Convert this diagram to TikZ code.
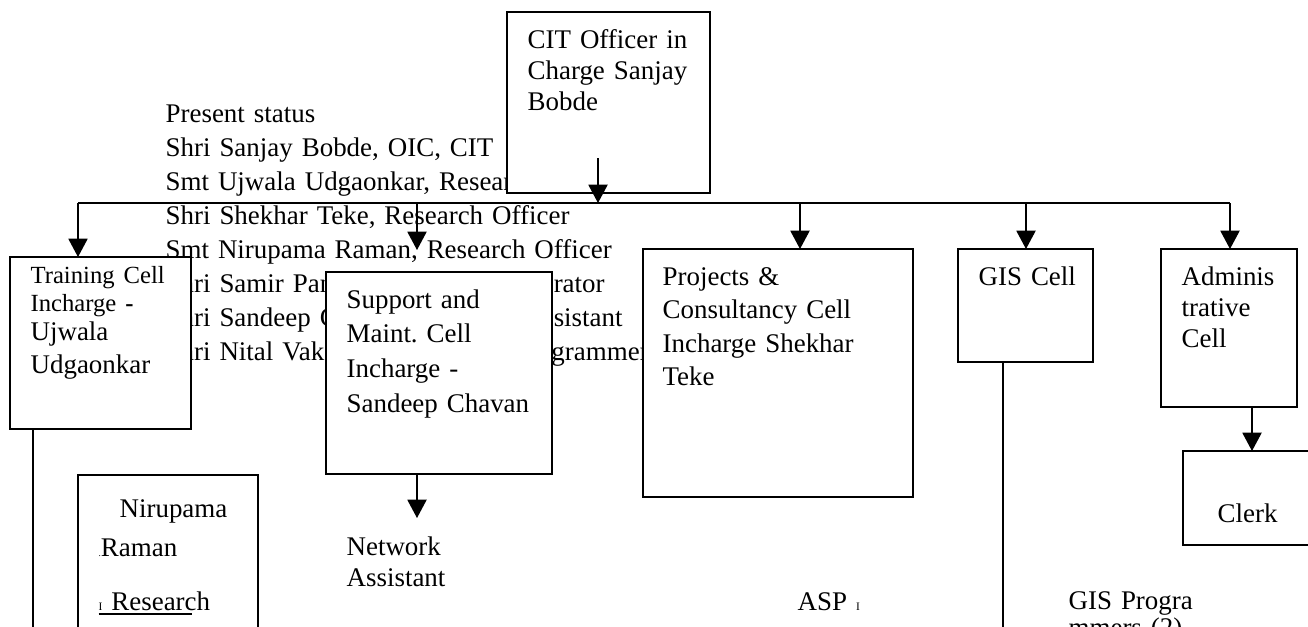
\documentclass[tikz,border=0pt]{standalone}
\usepackage{fontspec}
\setmainfont{Liberation Serif}
\usetikzlibrary{positioning,fit,arrows.meta}
\frenchspacing
\newcommand\postline{\rlap{\rule[-2.4pt]{40.7pt}{0.9pt}}}

\begin{document}
\begin{tikzpicture}[x=0.438pt,y=-0.438pt,
                     line width=0.55pt,
                     cell/.style={draw,fill=white,inner sep=0pt,outer sep=0pt},
                     cell text/.style={anchor=base west,inner sep=0pt,align=left,text width=170pt,
                                       font=\fontsize{11.8}{#1}\selectfont},
                     cell text/.default=14.6pt,
                     arrow/.style={-{Triangle[width=8.4pt,length=8pt]}}
                    ]
   \useasboundingbox (0,0) rectangle (1308,626);
   \clip (0,0) rectangle (1308,626);
   % status list, the cells are drawn over it
   \node[cell text=14.9pt,text width=300pt] (status) at (165,122)
     {Present status\\
      Shri Sanjay Bobde, OIC, CIT\\
      Smt Ujwala Udgaonkar, Research Officer\\
      Shri Shekhar Teke, Research Officer\\
      Smt Nirupama Raman, Research Officer\\
      \makebox[170pt][l]{Shri Samir Pan}rator\\
      \makebox[170pt][l]{Shri Sandeep C}sistant\\
      \makebox[169pt][l]{Shri Nital Vak}grammer};
   % cells
   \node[cell,fit={(507,12) (710,193)}] (cit) {};
   \node[cell,fit={(10,257) (191,429)}] (train) {};
   \node[cell,fit={(326,272) (552,474)}] (sup) {};
   \node[cell,fit={(643,249) (913,497)}] (proj) {};
   \node[cell,fit={(958,249) (1093,362)}] (gis) {};
   \node[cell,fit={(1161,249) (1297,407)}] (admin) {};
   \node[cell,fit={(1183,451) (1330,545)}] (clerk) {};
   \node[cell,fit={(78,475) (258,660)}] (nir) {};
   % texts
   \node[cell text=13.6pt] (cit text) at (527,48) {CIT Officer in\\ Charge Sanjay\\ Bobde};
   \node[cell text] (train text) at (30,283)
     {{\fontsize{10.8}{12.3}\selectfont Training Cell\\ Incharge {\bfseries -}\par}\vspace{-1.8pt}%
      {\fontsize{11.8}{14.5}\selectfont Ujwala\\ Udgaonkar\par}};
   \node[cell text=15.2pt] (sup text) at (346,308) {Support and\\ Maint. Cell\\ Incharge -\\ Sandeep Chavan};
   \node[cell text=14pt] (net text) at (346,555) {Network\\ Assistant};
   \node[cell text=14.7pt] (proj text) at (662,285) {Projects \&\\ Consultancy Cell\\ Incharge Shekhar\\ Teke};
   \node[cell text] (gis text) at (978,285) {GIS Cell};
   \node[cell text=13.6pt] (admin text) at (1181,285) {Adminis\\ trative\\ Cell};
   \node[cell text] (clerk text) at (1217,522) {Clerk};
   \node[cell text] (nir name) at (119,517) {Nirupama};
   \node[cell text] (nir surname) at (98,556) {{\fontsize{4}{4}\selectfont .}Raman};
   \node[cell text] (nir post) at (98,610) {\postline{\fontsize{5}{5}\selectfont I} Research};
   \node[cell text] (asp) at (797,610) {ASP {\fontsize{5}{5}\selectfont I}};
   \node[cell text=12pt] (gis prog) at (1068,609) {GIS Progra\\ mmers (2)};
   % connectors
   \coordinate (bus west) at (78,203);
   \coordinate (bus east) at (1230,203);
   \coordinate (cit out) at (598,158);
   \coordinate (sup tip) at (417,250);
   \coordinate (proj drop) at (800,203);
   \coordinate (gis drop) at (1026,203);
   \coordinate (net tip) at (417,518);
   \coordinate (clerk link) at (1252,0);
   \coordinate (train foot) at (33,640);
   \coordinate (gis foot) at (1003,640);
   \draw (bus west) -- (bus east);
   \path%
     (cit out) edge[arrow] (cit out |- bus west)
     (bus west) edge[arrow] (bus west |- train.north)
     (sup tip |- bus west) edge[arrow] (sup tip)
     (proj drop) edge[arrow] (proj drop |- proj.north)
     (gis drop) edge[arrow] (gis drop |- gis.north)
     (bus east) edge[arrow] (bus east |- admin.north)
     (net tip |- sup.south) edge[arrow] (net tip)
     (clerk link |- admin.south) edge[arrow] (clerk link |- clerk.north)
     (train foot |- train.south) edge (train foot)
     (gis foot |- gis.south) edge (gis foot);
\end{tikzpicture}
\end{document}
